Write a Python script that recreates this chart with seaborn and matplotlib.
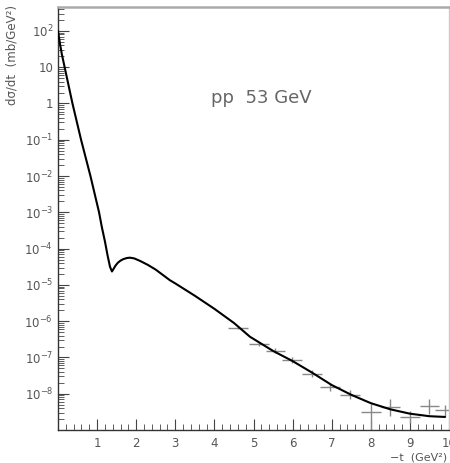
import numpy as np
import pandas as pd
import matplotlib
matplotlib.use("Agg")
import matplotlib.pyplot as plt
import seaborn as sns
from matplotlib.ticker import LogLocator, FixedLocator, MultipleLocator, FuncFormatter, NullFormatter

# ---- data ----
fit_t = [0.0, 0.05, 0.1, 0.17, 0.27, 0.37, 0.48, 0.59, 0.71, 0.83, 0.94, 1.05,
         1.12, 1.2, 1.27, 1.33, 1.38, 1.42, 1.47, 1.53, 1.6, 1.67, 1.76, 1.84,
         1.95, 2.1, 2.3, 2.5, 2.86, 3.0, 3.5, 4.0, 4.5, 4.91, 5.5, 6.0, 6.5, 7.0,
         7.5, 8.0, 8.5, 9.0, 9.5, 9.9]
fit_log_y = [2.0, 1.65, 1.35, 1.0, 0.5, 0.0, -0.5, -1.0, -1.5, -2.0, -2.5, -3.0,
             -3.4, -3.8, -4.2, -4.5, -4.63, -4.56, -4.47, -4.39, -4.33, -4.29, -4.26, -4.25,
             -4.27, -4.34, -4.45, -4.58, -4.87, -4.96, -5.3, -5.66, -6.05, -6.43, -6.82, -7.10, -7.42, -7.76,
             -8.03, -8.26, -8.43, -8.55, -8.62, -8.64]

data_t = [4.6, 5.14, 5.56, 5.99, 6.5, 6.96, 7.47, 8.0, 8.5, 9.0, 9.5, 9.9]
data_log_y = [-6.18, -6.63, -6.81, -7.08, -7.45, -7.82, -8.03, -8.50, -8.37, -8.64, -8.35, -8.46]
data_err_lo = [0.04, 0.05, 0.07, 0.08, 0.10, 0.10, 0.12, 0.50, 0.25, 0.18, 0.20, 0.15]
data_err_hi = [0.04, 0.05, 0.07, 0.08, 0.10, 0.10, 0.12, 0.22, 0.22, 0.15, 0.20, 0.15]
t_halfwidth = 0.25

x_ticks = [1, 2, 3, 4, 5, 6, 7, 8, 9, 10]
x_ticklabels = ["1", "2", "3", "4", "5", "6", "7", "8", "9", "10"]
y_decades = list(range(-8, 3))
title_text = "pp  53 GeV"
xlabel_text = "\u2212t  (GeV\u00b2)"
ylabel_text = "d\u03c3/dt  (mb/GeV\u00b2)"

# ---- build frames ----
fit_df = pd.DataFrame({"t": fit_t, "y": 10.0 ** np.array(fit_log_y)})
data_df = pd.DataFrame({"t": data_t, "y": 10.0 ** np.array(data_log_y)})
y_lo = data_df["y"] - 10.0 ** (np.array(data_log_y) - np.array(data_err_lo))
y_hi = 10.0 ** (np.array(data_log_y) + np.array(data_err_hi)) - data_df["y"]

sns.set_theme(style="white")
plt.rcParams["font.family"] = ["DejaVu Sans"]
plt.rcParams["mathtext.fontset"] = "dejavusans"

fig = plt.figure(figsize=(4.5, 4.63), dpi=100)
ax = fig.add_axes([58 / 450, 1 - 430 / 463, (449 - 58) / 450, (430 - 7) / 463])

ax.errorbar(data_df["t"], data_df["y"], xerr=t_halfwidth, yerr=[y_lo, y_hi],
            fmt="none", ecolor="#888888", elinewidth=1.0, capsize=0, zorder=2)
sns.lineplot(data=fit_df, x="t", y="y", ax=ax, color="black", linewidth=1.5,
             sort=False, zorder=3)

ax.set_yscale("log")
ax.set_xlim(0, 10)
ax.set_ylim(1e-9, 10 ** 2.66)

ax.xaxis.set_major_locator(FixedLocator(x_ticks))
ax.set_xticklabels(x_ticklabels)
ax.xaxis.set_minor_locator(MultipleLocator(0.2))

ax.yaxis.set_major_locator(FixedLocator([10.0 ** k for k in y_decades]))
def fmt(v, pos):
    k = int(round(np.log10(v)))
    if k == 0:
        return "1"
    if k == 1:
        return "10"
    return r"$10^{%d}$" % k
ax.yaxis.set_major_formatter(FuncFormatter(fmt))
ax.yaxis.set_minor_locator(LogLocator(base=10, subs=np.arange(2, 10), numticks=30))
ax.yaxis.set_minor_formatter(NullFormatter())

ax.tick_params(which="major", direction="in", length=8, width=0.8, color="#444444",
               labelsize=8.5, labelcolor="#555555", left=True, bottom=True, top=False, right=False)
ax.tick_params(which="minor", direction="in", length=4, width=0.6, color="#444444",
               left=True, bottom=True, top=False, right=False)
ax.tick_params(axis="x", pad=5)

for side in ["left", "bottom"]:
    ax.spines[side].set_color("#333333")
    ax.spines[side].set_linewidth(1.0)
ax.spines["top"].set_color("#aaaaaa")
ax.spines["top"].set_linewidth(1.8)
ax.spines["right"].set_color("#cccccc")
ax.spines["right"].set_linewidth(1.0)

ax.set_xlabel("")
ax.set_ylabel("")
fig.text(447 / 450, 1 - 462 / 463, xlabel_text, ha="right", va="bottom",
         fontsize=8, color="#555555")
fig.text(12 / 450, 1 - 5 / 463, ylabel_text, ha="center", va="top", rotation=90,
         fontsize=8.5, color="#555555")

ax.text(0.52, 0.785, title_text, transform=ax.transAxes, ha="center", va="center",
        fontsize=13, color="#666666")

fig.savefig("out.png", dpi=100)
